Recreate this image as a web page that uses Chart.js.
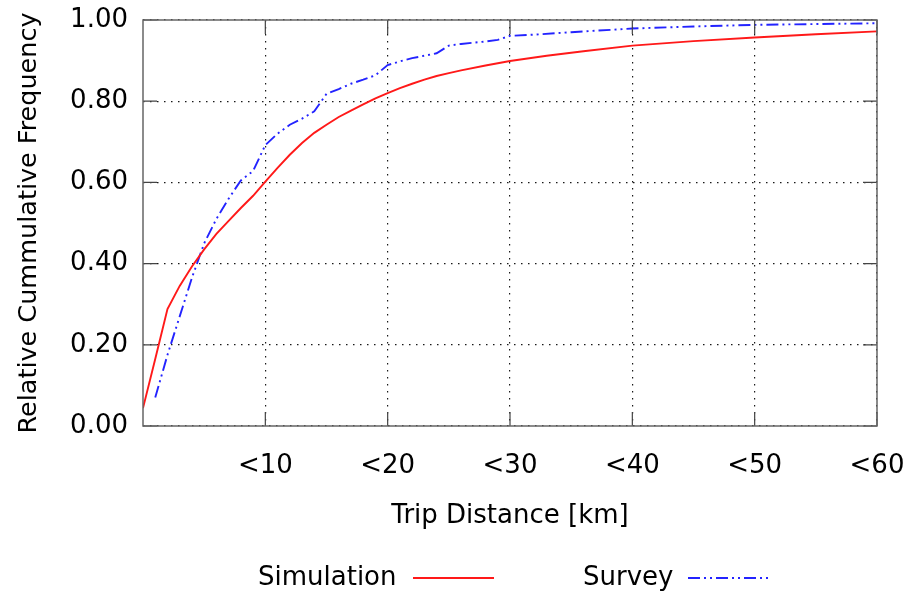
<!DOCTYPE html>
<html>
<head>
<meta charset="utf-8">
<script src="https://cdn.jsdelivr.net/npm/chart.js@4"></script>
<style>
  html, body { margin: 0; padding: 0; background: #fff; }
  #wrap { width: 908px; height: 594px; }
</style>
</head>
<body>
<div id="wrap"><canvas id="cdf-chart" width="908" height="594"></canvas></div>
<script>
const simDistance = [0, 1, 2, 3, 4, 5, 6, 7, 8, 9, 10, 11, 12, 13, 14, 15, 16, 17, 18, 19, 20, 21, 22, 23, 24, 25, 26, 28, 30, 33, 36, 40, 45, 50, 55, 60];
const simFreq = [0.044, 0.165, 0.288, 0.345, 0.393, 0.435, 0.473, 0.505, 0.537, 0.567, 0.602, 0.636, 0.668, 0.697, 0.722, 0.742, 0.761, 0.777, 0.792, 0.807, 0.82, 0.832, 0.843, 0.853, 0.862, 0.869, 0.876, 0.888, 0.899, 0.912, 0.923, 0.937, 0.948, 0.957, 0.965, 0.972];

const surveyDistance = [1, 2, 3, 4, 5, 6, 7, 8, 9, 10, 11, 12, 13, 14, 15, 16, 17, 18, 19, 20, 21, 22, 23, 24, 25, 26, 27, 28, 29, 30, 32, 35, 40, 45, 50, 55, 60];
const surveyFreq = [0.07, 0.175, 0.27, 0.365, 0.45, 0.51, 0.56, 0.605, 0.628, 0.692, 0.72, 0.742, 0.757, 0.775, 0.818, 0.83, 0.843, 0.853, 0.864, 0.889, 0.898, 0.906, 0.912, 0.918, 0.937, 0.941, 0.944, 0.947, 0.951, 0.961, 0.964, 0.97, 0.979, 0.984, 0.988, 0.99, 0.992];

const xTickValues = [10, 20, 30, 40, 50, 60];
const xTickLabels = ['<10', '<20', '<30', '<40', '<50', '<60'];

const FONT = '"DejaVu Sans", Verdana, sans-serif';
const toPoints = (xs, ys) => xs.map((x, i) => ({ x, y: ys[i] }));

Chart.defaults.color = '#000';
Chart.defaults.font.family = FONT;
Chart.defaults.font.size = 26;

// gnuplot style frame: grey box, inward mirror ticks, and a "text then sample" key
const framePlugin = {
  id: 'frame',
  afterDatasetsDraw(chart) {
    const { ctx, chartArea: a, scales: { x, y } } = chart;
    ctx.save();
    ctx.setLineDash([]);
    ctx.strokeStyle = '#444';
    ctx.lineWidth = 1.2;
    ctx.beginPath();
    x.ticks.forEach((t) => {
      const px = x.getPixelForValue(t.value);
      ctx.moveTo(px, a.bottom);
      ctx.lineTo(px, a.bottom - 14);
      ctx.moveTo(px, a.top);
      ctx.lineTo(px, a.top + 14);
    });
    y.ticks.forEach((t) => {
      const py = y.getPixelForValue(t.value);
      ctx.moveTo(a.left, py);
      ctx.lineTo(a.left + 14, py);
      ctx.moveTo(a.right, py);
      ctx.lineTo(a.right - 14, py);
    });
    ctx.stroke();
    ctx.strokeStyle = '#666';
    ctx.lineWidth = 1.5;
    ctx.strokeRect(a.left, a.top, a.right - a.left, a.bottom - a.top);

    // key
    const keyY = 578;
    const entries = [{ textX: 258, lineX: 413 }, { textX: 583, lineX: 688 }];
    ctx.font = `26px ${FONT}`;
    ctx.textBaseline = 'middle';
    ctx.fillStyle = '#000';
    chart.data.datasets.forEach((ds, i) => {
      const e = entries[i];
      ctx.fillText(ds.label, e.textX, keyY);
      ctx.beginPath();
      ctx.strokeStyle = ds.borderColor;
      ctx.lineWidth = ds.borderWidth;
      ctx.setLineDash(ds.borderDash || []);
      ctx.moveTo(e.lineX, keyY);
      ctx.lineTo(e.lineX + 81, keyY);
      ctx.stroke();
    });
    ctx.restore();
  },
};

const gridStyle = {
  color: 'rgba(0,0,0,0.9)',
  lineWidth: 1.2,
  drawTicks: false,
};

new Chart(document.getElementById('cdf-chart'), {
  type: 'line',
  data: {
    datasets: [
      {
        label: 'Simulation',
        data: toPoints(simDistance, simFreq),
        borderColor: 'rgb(255,25,25)',
        borderWidth: 1.9,
        pointRadius: 0,
        tension: 0,
        fill: false,
      },
      {
        label: 'Survey',
        data: toPoints(surveyDistance, surveyFreq),
        borderColor: 'rgb(35,35,255)',
        borderWidth: 1.9,
        borderDash: [12, 4, 2, 4, 2, 4],
        pointRadius: 0,
        tension: 0,
        fill: false,
      },
    ],
  },
  options: {
    responsive: false,
    animation: false,
    layout: { padding: { top: 20, right: 31, bottom: 48, left: 0 } },
    plugins: {
      legend: { display: false },
      tooltip: { enabled: false },
    },
    scales: {
      x: {
        type: 'linear',
        min: 0,
        max: 60,
        afterBuildTicks: (scale) => {
          scale.ticks = xTickValues.map((value) => ({ value }));
        },
        afterFit: (scale) => {
          scale.height = 120;
          scale.paddingLeft = 0;
          scale.paddingRight = 0;
        },
        ticks: {
          padding: 25,
          maxRotation: 0,
          callback: (value) => xTickLabels[xTickValues.indexOf(value)] || '',
        },
        grid: gridStyle,
        border: { display: false, dash: [1.5, 5.5] },
        title: {
          display: true,
          text: 'Trip Distance [km]',
          font: { size: 26 },
          padding: { top: 0, bottom: 14 },
        },
      },
      y: {
        min: 0,
        max: 1,
        afterFit: (scale) => {
          scale.width = 143;
          scale.paddingTop = 0;
          scale.paddingBottom = 0;
        },
        ticks: {
          stepSize: 0.2,
          padding: 15,
          callback: (value) => value.toFixed(2),
        },
        grid: gridStyle,
        border: { display: false, dash: [1.5, 5.5] },
        title: {
          display: true,
          text: 'Relative Cummulative Frequency',
          font: { size: 25.5 },
          padding: { top: 14, bottom: 0 },
        },
      },
    },
  },
  plugins: [framePlugin],
});
</script>
</body>
</html>
